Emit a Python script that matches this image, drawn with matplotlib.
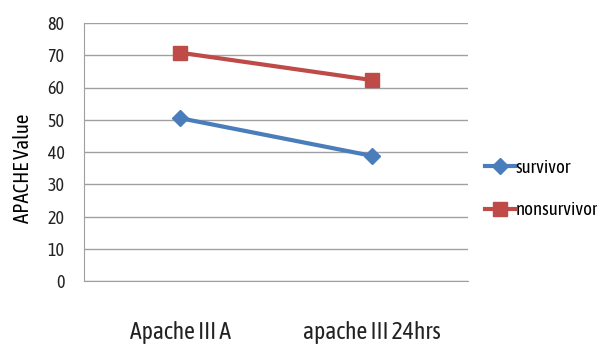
import matplotlib.pyplot as plt
from matplotlib import font_manager

names = {f.name for f in font_manager.fontManager.ttflist}
narrow = next((n for n in ['Asap Condensed', 'Archivo Narrow', 'Liberation Sans Narrow', 'DejaVu Sans']
               if n in names), 'DejaVu Sans')

categories = ['Apache III A', 'apache III 24hrs']
survivor = [50.5, 38.8]
nonsurvivor = [70.8, 62.3]

fig = plt.figure(figsize=(5.97, 3.48), dpi=100)
ax = fig.add_axes([84/597, 1-281/348, 384/597, 258/348])

x = [0.5, 1.5]
ax.plot(x, survivor, color='#4a7ebb', lw=3, marker='D', ms=8, label='survivor')
ax.plot(x, nonsurvivor, color='#be4b48', lw=3, marker='s', ms=10, label='nonsurvivor')

ax.set_xlim(0, 2)
ax.set_ylim(0, 80)
ax.set_yticks(range(0, 81, 10))
ax.set_xticks(x)
ax.set_xticklabels(categories, fontsize=17, family=narrow, color='#222222')
ax.tick_params(axis='x', length=0, pad=29)
ax.tick_params(axis='y', length=0, pad=14, labelsize=13, labelcolor='#222222')
for t in ax.get_yticklabels():
    t.set_family(narrow)
ax.yaxis.grid(True, color='#a0a0a0', lw=1)
ax.set_axisbelow(True)
for s in ['top', 'right']:
    ax.spines[s].set_visible(False)
for s in ['left', 'bottom']:
    ax.spines[s].set_color('#a0a0a0')
ax.set_ylabel('APACHE Value', fontsize=15, family=narrow)
ax.yaxis.set_label_coords(-0.132, 0.438)

fig.legend(loc='upper left', bbox_to_anchor=(485/597, 1-159/348), frameon=False,
           prop={'family': narrow, 'size': 13.5}, handlelength=1.6, handletextpad=0.05,
           labelspacing=1.3, borderaxespad=0, borderpad=0)

fig.savefig('out.png', dpi=100)
